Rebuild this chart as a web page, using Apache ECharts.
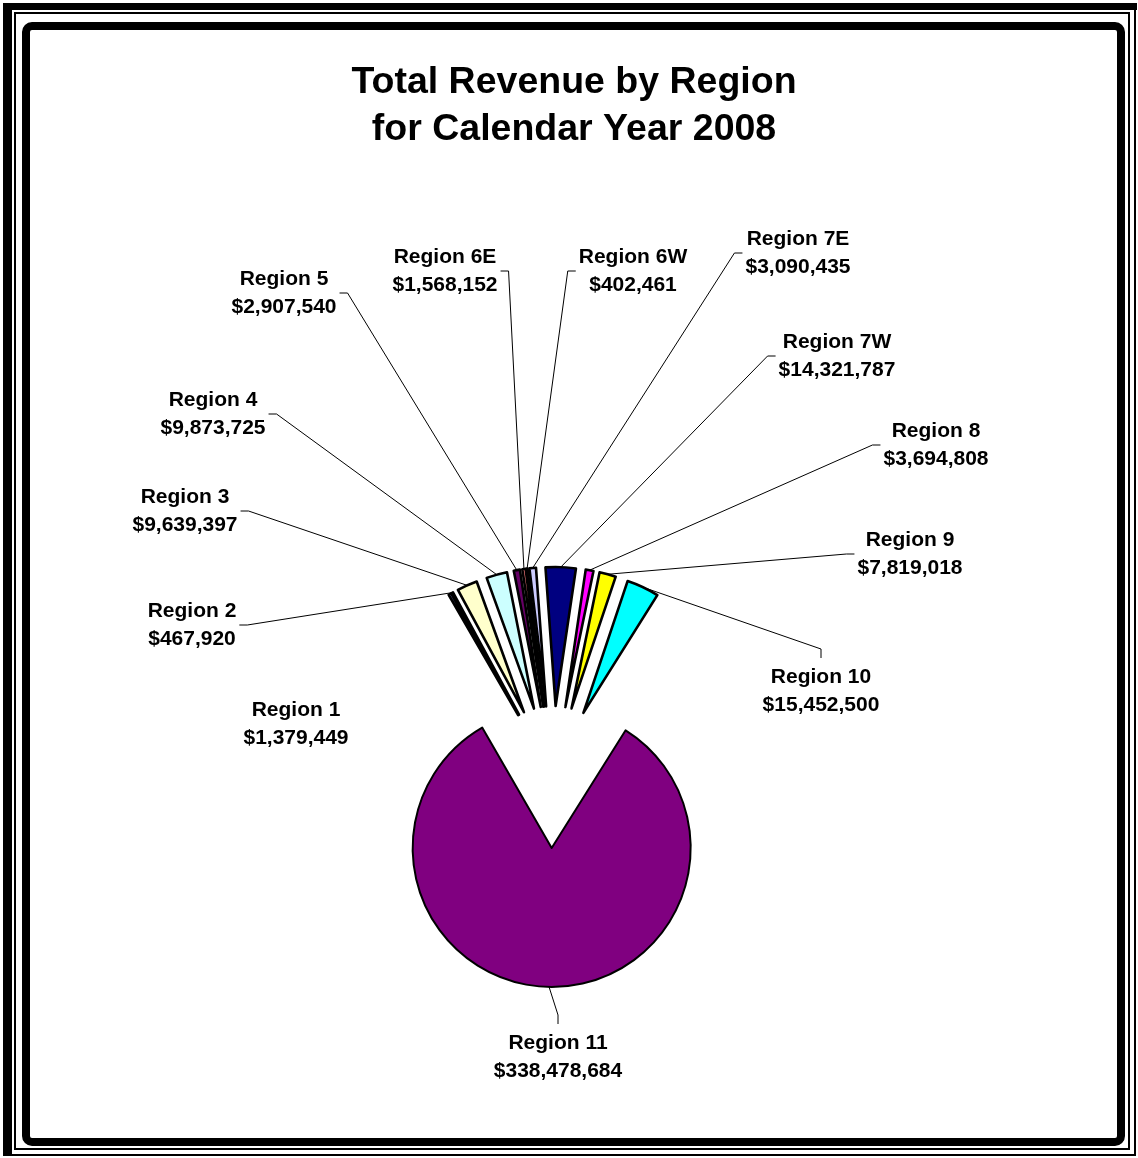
<!DOCTYPE html>
<html><head><meta charset="utf-8">
<script src="https://cdn.jsdelivr.net/npm/echarts@6/dist/echarts.min.js"></script>
<style>html,body{margin:0;padding:0;background:#fff}#c{width:1138px;height:1158px}</style>
</head><body><div id="c"></div>
<script>
// ---- data ----
const categories = ['Region 1','Region 2','Region 3','Region 4','Region 5','Region 6E','Region 6W','Region 7E','Region 7W','Region 8','Region 9','Region 10','Region 11'];
const revenue = [1379449, 467920, 9639397, 9873725, 2907540, 1568152, 402461, 3090435, 14321787, 3694808, 7819018, 15452500, 338478684];
const titleLines = ['Total Revenue by Region', 'for Calendar Year 2008'];

// ---- styles / layout ----
const sliceColors = ['#9999FF','#993366','#FFFFCC','#CCFFFF','#660066','#FF8080','#0066CC','#CCCCFF','#000080','#FF00FF','#FFFF00','#00FFFF','#800080'];
const sliceBorder = [2.6,2.6,2.6,2.6,2.6,2.6,2.6,2.6,2.6,2.6,2.6,2.6,2];
const labelPositions = [[296,724],[192,625],[185,511],[213,414],[284,293],[445,271],[633,271],[798,253],[837,356],[936,445],[910,554],[821,691],[558,1057]];
const labelAttach = [null,'right','right','right','right','right','left','left','left','left','left','top','top'];
const FONT = 'Liberation Sans, Arial, sans-serif';
const PIE_CENTER = [553, 777];
const PIE_R = 139;
const EXPLODE = 71;
const START = 120;

const fmt = v => '$' + v.toLocaleString('en-US');

const chart = echarts.init(document.getElementById('c'), null, {renderer: 'canvas'});

// exploded slices (every slice pulled out along its bisector)
const sliceData = categories.map((name, i) => ({
  name: name, value: revenue[i], selected: true,
  itemStyle: {color: sliceColors[i], borderColor: '#000', borderWidth: sliceBorder[i]},
  select: {itemStyle: {color: sliceColors[i], borderColor: '#000', borderWidth: sliceBorder[i]}}
}));
// invisible companion pie whose outer arc coincides with the exploded slices' outer arcs; carries labels
const labelData = categories.map((name, i) => ({
  name: name, value: revenue[i],
  labelLine: {show: labelAttach[i] !== null}
}));

chart.setOption({
  animation: false,
  backgroundColor: '#fff',
  title: {
    text: titleLines.join('\n'),
    left: 574, top: 59, padding: 0, textAlign: 'center',
    textStyle: {fontFamily: FONT, fontWeight: 'bold', fontSize: 37.5, lineHeight: 47, color: '#000'}
  },
  graphic: [
    {type: 'rect', shape: {x: 3, y: 3, width: 9, height: 1153}, style: {fill: '#000'}},
    {type: 'rect', shape: {x: 3, y: 3, width: 1134, height: 7}, style: {fill: '#000'}},
    {type: 'rect', shape: {x: 1134, y: 3, width: 2, height: 1153}, style: {fill: '#000'}},
    {type: 'rect', shape: {x: 3, y: 1154, width: 1133, height: 2}, style: {fill: '#000'}},
    {type: 'rect', shape: {x: 15, y: 13, width: 1114, height: 1136}, style: {fill: 'none', stroke: '#000', lineWidth: 2}},
    {type: 'rect', shape: {x: 26, y: 26, width: 1095, height: 1116, r: 6}, style: {fill: 'none', stroke: '#000', lineWidth: 8}}
  ],
  series: [{
    type: 'pie',
    center: PIE_CENTER,
    radius: PIE_R,
    startAngle: START,
    clockwise: true,
    selectedMode: 'multiple',
    selectedOffset: EXPLODE,
    emphasis: {disabled: true},
    label: {show: false},
    labelLine: {show: false},
    data: sliceData,
    z: 2
  }, {
    type: 'pie',
    center: PIE_CENTER,
    radius: PIE_R + EXPLODE,
    startAngle: START,
    clockwise: true,
    silent: true,
    avoidLabelOverlap: false,
    emphasis: {disabled: true},
    itemStyle: {color: 'rgba(0,0,0,0)', borderWidth: 0},
    label: {
      show: true,
      position: 'outside',
      formatter: p => p.name + '\n' + fmt(p.value),
      fontFamily: FONT, fontWeight: 'bold', fontSize: 21, lineHeight: 28, color: '#000',
      align: 'center'
    },
    labelLine: {show: true, length: 10, length2: 8, smooth: false, lineStyle: {color: '#000', width: 1}},
    labelLayout: params => {
      const i = params.dataIndex;
      const x = labelPositions[i][0], y = labelPositions[i][1];
      const out = {x: x, y: y, align: 'center', verticalAlign: 'middle', hideOverlap: false};
      const side = labelAttach[i];
      const pts = params.labelLinePoints;
      if (side && pts && pts.length) {
        const w = params.labelRect.width, h = params.labelRect.height;
        let p3, p2;
        if (side === 'right') { p3 = [x + w / 2 + 3, y]; p2 = [p3[0] + 8, y]; }
        else if (side === 'left') { p3 = [x - w / 2 - 3, y]; p2 = [p3[0] - 8, y]; }
        else { p3 = [x, y - h / 2 - 5]; p2 = [x, p3[1] - 9]; }
        out.labelLinePoints = [[pts[0][0], pts[0][1]], p2, p3];
      }
      return out;
    },
    data: labelData,
    z: 1
  }]
});
</script>
</body></html>
